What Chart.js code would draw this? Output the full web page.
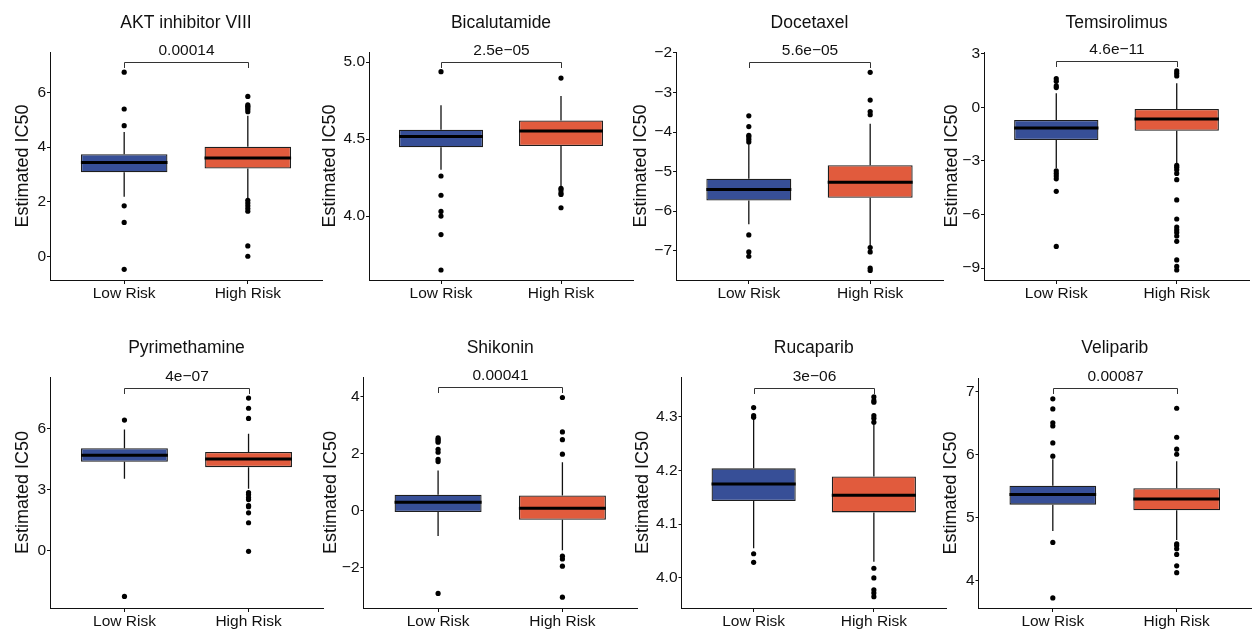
<!DOCTYPE html>
<html>
<head>
<meta charset="utf-8">
<script src="https://cdn.jsdelivr.net/npm/chart.js@4.4.0/dist/chart.umd.min.js"></script>
<style>
  html, body { margin: 0; padding: 0; background: #fff; width: 1252px; height: 630px; overflow: hidden; }
  canvas { position: absolute; }
</style>
</head>
<body>
<script>
const groups = ["Low Risk", "High Risk"];
const drugs = ["AKT inhibitor VIII", "Bicalutamide", "Docetaxel", "Temsirolimus", "Pyrimethamine", "Shikonin", "Rucaparib", "Veliparib"];
const pLabels = ["0.00014", "2.5e\u221205", "5.6e\u221205", "4.6e\u221211", "4e\u221207", "0.00041", "3e\u221206", "0.00087"];

// [lower whisker, Q1, median, Q3, upper whisker]
const lowStats = [
  [2.18, 3.08, 3.44, 3.74, 4.56],
  [4.30, 4.446, 4.517, 4.56, 4.72],
  [-6.33, -5.73, -5.45, -5.18, -4.28],
  [-3.4, -1.83, -1.16, -0.71, 0.78],
  [3.53, 4.36, 4.69, 5.03, 5.95],
  [-0.89, -0.05, 0.29, 0.56, 1.41],
  [4.055, 4.143, 4.175, 4.204, 4.297],
  [4.78, 5.2, 5.36, 5.5, 5.92]
];
const highStats = [
  [2.12, 3.22, 3.60, 4.02, 5.15],
  [4.19, 4.455, 4.552, 4.62, 4.78],
  [-6.9, -5.66, -5.27, -4.84, -3.79],
  [-3.17, -1.31, -0.65, -0.1, 1.34],
  [3.03, 4.1, 4.5, 4.85, 5.75],
  [-1.39, -0.32, 0.08, 0.53, 1.7],
  [4.03, 4.122, 4.154, 4.189, 4.287],
  [4.64, 5.11, 5.29, 5.46, 5.89]
];
const lowOutliers = [
  [6.75, 5.40, 4.79, 1.85, 1.24, -0.48],
  [4.937, 4.26, 4.135, 4.03, 4.0, 3.88, 3.65],
  [-3.59, -3.86, -4.08, -4.12, -4.18, -4.25, -6.6, -7.03, -7.14],
  [1.6, 1.45, 1.2, 1.1, -3.55, -3.7, -3.85, -4.0, -4.7, -7.78],
  [6.42, -2.27],
  [2.55, 2.5, 2.45, 2.4, 2.15, 2.05, 1.8, 1.72, -2.91],
  [4.317, 4.302, 4.299, 4.045, 4.029],
  [6.88, 6.72, 6.5, 6.45, 6.18, 5.97, 4.6, 3.72]
];
const highOutliers = [
  [5.86, 5.55, 5.5, 5.45, 5.38, 5.3, 2.05, 1.95, 1.85, 1.75, 1.65, 0.38, 0.0],
  [4.896, 4.18, 4.17, 4.15, 4.14, 4.054],
  [-2.49, -3.19, -3.48, -3.56, -6.92, -7.03, -7.44, -7.5],
  [2.03, 1.9, 1.75, -3.25, -3.35, -3.5, -3.7, -4.05, -5.18, -6.25, -6.7, -6.85, -7.0, -7.2, -7.5, -8.54, -8.9, -9.1],
  [7.5, 7.0, 6.5, 2.85, 2.75, 2.6, 2.5, 2.2, 2.15, 1.85, 1.36, -0.05],
  [3.97, 2.76, 2.49, 1.98, -1.6, -1.7, -1.95, -3.04],
  [4.337, 4.33, 4.327, 4.302, 4.297, 4.29, 4.018, 4.0, 3.978, 3.972, 3.965],
  [6.73, 6.27, 6.08, 6.0, 4.58, 4.55, 4.5, 4.41, 4.23, 4.12]
];
const yRanges = [
  [-0.87, 7.49], [3.585, 5.065], [-7.74, -1.975], [-9.66, 3.09],
  [-2.84, 8.54], [-3.42, 4.69], [3.944, 4.374], [3.56, 7.21]
];
const yTickLabels = [
  ["0", "2", "4", "6"],
  ["4.0", "4.5", "5.0"],
  ["\u22127", "\u22126", "\u22125", "\u22124", "\u22123", "\u22122"],
  ["\u22129", "\u22126", "\u22123", "0", "3"],
  ["0", "3", "6"],
  ["\u22122", "0", "2", "4"],
  ["4.0", "4.1", "4.2", "4.3"],
  ["4", "5", "6", "7"]
];
const bracketY = [7.12, 5.0, -2.23, 2.57, 8.01, 4.35, 4.354, 7.05];

// layout: plot area [left, right, top, bottom] in page pixels, and y-title centre x
const plotBoxes = [
  [50, 326, 52, 280], [369, 637, 52, 280], [676, 947, 52, 280], [984, 1253, 52, 280],
  [50, 327, 377, 608], [363.5, 641, 377, 608], [681.5, 950, 377, 608], [978.5, 1255, 378, 608]
];
const yTitleX = [23.3, 329.7, 641, 952.3, 23.3, 331.3, 642.7, 950.7];
const colStart = [0, 313, 626, 939];
const rowStart = [0, 315];

const fills = ["#374f97", "#e15b3d"];
const BOX_W = 0.7;
const FONT = "'Liberation Sans', Arial, Helvetica, sans-serif";

Chart.defaults.font.family = FONT;
Chart.defaults.color = "#111";

const toNum = (s) => parseFloat(s.replace("\u2212", "-"));

const bracketPlugin = {
  id: "bracket",
  afterDraw(chart, args, opts) {
    const { ctx, scales: { x, y } } = chart;
    const x1 = Math.round(x.getPixelForValue(1)) + 0.5;
    const x2 = Math.round(x.getPixelForValue(2)) + 0.5;
    const yb = Math.round(y.getPixelForValue(opts.value)) + 0.5;
    ctx.save();
    ctx.strokeStyle = "#333";
    ctx.lineWidth = 1;
    ctx.beginPath();
    ctx.moveTo(x1, yb + 5.5);
    ctx.lineTo(x1, yb);
    ctx.lineTo(x2, yb);
    ctx.lineTo(x2, yb + 5.5);
    ctx.stroke();
    ctx.font = "15.5px " + FONT;
    ctx.fillStyle = "#111";
    ctx.textAlign = "center";
    ctx.textBaseline = "middle";
    ctx.fillText(opts.label, (x1 + x2) / 2, yb - 12);
    ctx.restore();
  }
};

function makePanel(i) {
  const col = i % 4, row = Math.floor(i / 4);
  const [l, r, t, b] = plotBoxes[i];
  const cx = colStart[col], cy = rowStart[row];
  const canvas = document.createElement("canvas");
  const w = Math.ceil(r - cx);
  canvas.width = w;
  canvas.height = 315;
  canvas.style.left = cx + "px";
  canvas.style.top = cy + "px";
  document.body.appendChild(canvas);

  const stats = [lowStats[i], highStats[i]];
  const boxes = stats.map((s, g) => ({ x: g + 1, y: [s[1], s[3]] }));
  const whiskers = [];
  const medians = [];
  stats.forEach((s, g) => {
    const xc = g + 1;
    whiskers.push({ x: xc, y: s[4] }, { x: xc, y: s[3] }, { x: xc, y: null },
                  { x: xc, y: s[1] }, { x: xc, y: s[0] }, { x: xc, y: null });
    medians.push({ x: xc - BOX_W / 2, y: s[2] }, { x: xc + BOX_W / 2, y: s[2] }, { x: xc, y: null });
  });
  const outliers = [
    ...lowOutliers[i].map((v) => ({ x: 1, y: v })),
    ...highOutliers[i].map((v) => ({ x: 2, y: v }))
  ];

  const titleSize = 17.5, titleLH = titleSize * 1.2;
  const titleTop = row === 0 ? 12.8 : 22.8;
  const titleBottom = (t - cy) - titleTop - titleLH;
  const yTicks = yTickLabels[i].map(toNum);

  new Chart(canvas, {
    type: "bar",
    data: {
      datasets: [
        { type: "line", data: medians, borderColor: "#000", borderWidth: 3, pointRadius: 0, borderCapStyle: "butt", order: 0 },
        { type: "scatter", data: outliers, backgroundColor: "#000", borderWidth: 0, pointRadius: 2.6, order: 1 },
        { type: "bar", data: boxes, backgroundColor: fills, borderColor: "#1e1e1e", borderWidth: 1.3, borderSkipped: false,
          barPercentage: BOX_W, categoryPercentage: 1, order: 2 },
        { type: "line", data: whiskers, borderColor: "#111", borderWidth: 1.3, pointRadius: 0, borderCapStyle: "butt", order: 3 }
      ]
    },
    options: {
      responsive: false,
      animation: false,
      events: [],
      layout: { padding: 0 },
      plugins: {
        legend: { display: false },
        tooltip: { enabled: false },
        title: {
          display: true, text: drugs[i], color: "#111", fullSize: false,
          font: { size: titleSize, weight: "normal" },
          padding: { top: titleTop, bottom: titleBottom }
        },
        bracket: { value: bracketY[i], label: pLabels[i] }
      },
      scales: {
        x: {
          type: "linear", min: 0.4, max: 2.6, offset: false,
          afterBuildTicks: (s) => { s.ticks = [{ value: 1 }, { value: 2 }]; },
          afterFit: (s) => { s.height = 315 - (b - cy); },
          ticks: { callback: (v, k) => groups[k], font: { size: 15.5 }, color: "#111", padding: 0, maxRotation: 0, autoSkip: false },
          grid: { offset: false, drawOnChartArea: false, drawTicks: true, tickLength: 4, tickColor: "#111", tickWidth: 1 },
          border: { color: "#111", width: 1 }
        },
        y: {
          type: "linear", min: yRanges[i][0], max: yRanges[i][1],
          afterBuildTicks: (s) => { s.ticks = yTicks.map((v) => ({ value: v })); },
          afterFit: (s) => { s.width = l - cx; },
          ticks: { callback: (v, k) => yTickLabels[i][k], font: { size: 15.5 }, color: "#111", padding: 1, autoSkip: false },
          grid: { drawOnChartArea: false, drawTicks: true, tickLength: 3, tickColor: "#111", tickWidth: 1 },
          border: { color: "#111", width: 1 },
          title: {
            display: true, text: "Estimated IC50", color: "#111",
            font: { size: 18 },
            padding: { top: yTitleX[i] - cx - 10.8, bottom: 0 }
          }
        }
      }
    },
    plugins: [bracketPlugin]
  });
}

drugs.forEach((d, i) => makePanel(i));
</script>
</body>
</html>
